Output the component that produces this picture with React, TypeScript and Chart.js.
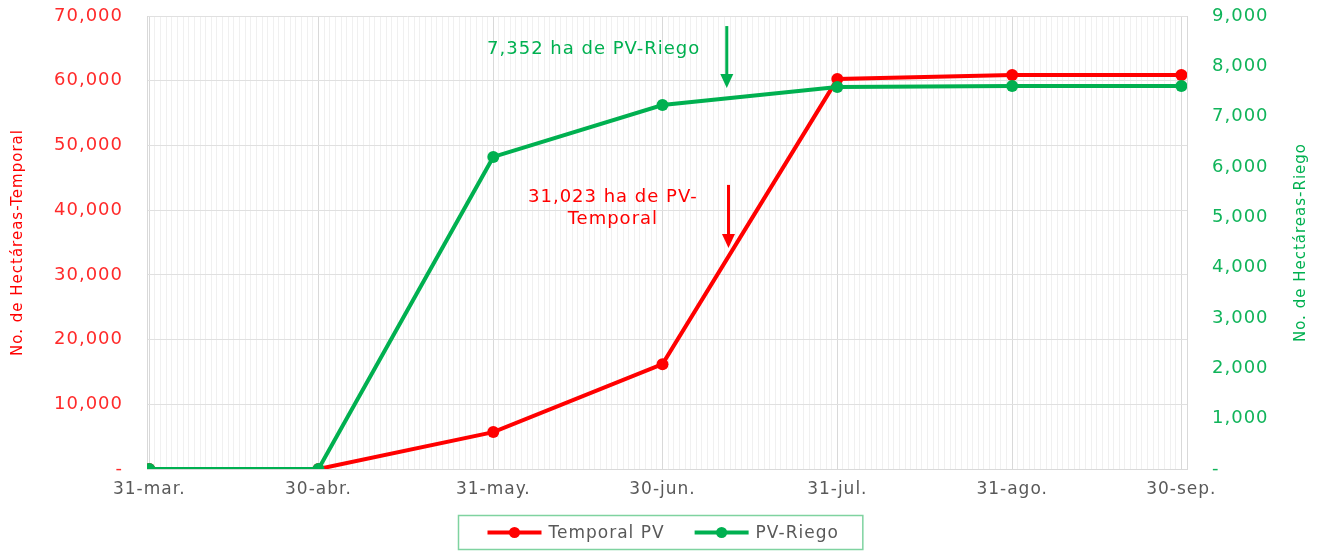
import React, { useEffect, useRef } from 'react';
import { Chart, registerables } from 'chart.js';

Chart.register(...registerables);

// ---- data ----
const dateLabels = ['31-mar.', '30-abr.', '31-may.', '30-jun.', '31-jul.', '31-ago.', '30-sep.'];
const dayOffsets = [0, 30, 61, 91, 122, 153, 183];
const temporalValues = [0, 0, 5700, 16200, 60250, 60900, 60900];
const riegoValues = [0, 0, 6200, 7230, 7590, 7610, 7610];
const seriesNames = ['Temporal PV', 'PV-Riego'];
const leftTitle = 'No. de Hectáreas-Temporal';
const rightTitle = 'No. de Hectáreas-Riego';
const riegoNote = ['7,352 ha de PV-Riego'];
const temporalNote = ['31,023 ha de PV-', 'Temporal'];

// ---- styles ----
const FONT = '"DejaVu Sans", sans-serif';
const LS = '1px';
const RED = '#FF0000';
const GREEN = '#00B050';
const GRAY = '#595959';

function drawArrow(ctx: CanvasRenderingContext2D, x: number, y1: number, y2: number, color: string) {
  const head = 14;
  ctx.save();
  ctx.strokeStyle = color;
  ctx.fillStyle = color;
  ctx.lineWidth = 3;
  ctx.beginPath();
  ctx.moveTo(x, y1);
  ctx.lineTo(x, y2 - head + 1);
  ctx.stroke();
  ctx.beginPath();
  ctx.moveTo(x - 6.5, y2 - head);
  ctx.lineTo(x + 6.5, y2 - head);
  ctx.lineTo(x, y2);
  ctx.closePath();
  ctx.fill();
  ctx.restore();
}

function drawVerticalTitle(ctx: CanvasRenderingContext2D, text: string, x: number, y: number, color: string) {
  ctx.save();
  ctx.translate(x, y);
  ctx.rotate(-Math.PI / 2);
  ctx.fillStyle = color;
  ctx.textAlign = 'center';
  ctx.textBaseline = 'middle';
  ctx.fillText(text, 0, 0);
  ctx.restore();
}

const overlayPlugin = {
  id: 'overlay',
  beforeUpdate(chart: any) {
    chart.ctx.letterSpacing = LS;
  },
  beforeDraw(chart: any) {
    chart.ctx.letterSpacing = LS;
  },
  afterDraw(chart: any) {
    const ctx: CanvasRenderingContext2D = chart.ctx;
    const xs = chart.scales.x;
    const yl = chart.scales.y;
    const yr = chart.scales.y1;
    const area = chart.chartArea;
    ctx.save();
    ctx.letterSpacing = LS;

    // axis titles
    ctx.font = `15px ${FONT}`;
    const midY = (area.top + area.bottom) / 2;
    drawVerticalTitle(ctx, leftTitle, 18, midY, RED);
    drawVerticalTitle(ctx, rightTitle, 1301, midY, GREEN);

    ctx.font = `18px ${FONT}`;
    ctx.textAlign = 'center';
    ctx.textBaseline = 'middle';

    // Riego annotation
    ctx.fillStyle = GREEN;
    riegoNote.forEach((t, i) => {
      ctx.fillText(t, xs.getPixelForValue(78.8), yr.getPixelForValue(8330) + i * 22);
    });
    drawArrow(ctx, xs.getPixelForValue(102.4), yr.getPixelForValue(8800), yr.getPixelForValue(7570), GREEN);

    // Temporal annotation
    ctx.fillStyle = RED;
    temporalNote.forEach((t, i) => {
      ctx.fillText(t, xs.getPixelForValue(82.2), yl.getPixelForValue(42050) + i * 22);
    });
    drawArrow(ctx, xs.getPixelForValue(102.7), yl.getPixelForValue(43900), yl.getPixelForValue(34150), RED);

    // Legend
    ctx.font = `17px ${FONT}`;
    ctx.textAlign = 'left';
    const datasets = chart.data.datasets;
    const lineW = 54;
    const gapText = 7;
    const padL = 29;
    const padR = 24;
    const itemGap = 30;
    const widths = datasets.map((d: any) => ctx.measureText(d.label).width);
    const total = padL + padR + datasets.reduce((s: number, d: any, i: number) => s + lineW + gapText + widths[i], 0) + itemGap * (datasets.length - 1);
    const bx = Math.round(chart.width / 2 - total / 2) + 0.5;
    const by = 515.5;
    const bh = 34;
    ctx.strokeStyle = '#7fd3a0';
    ctx.lineWidth = 1.5;
    ctx.strokeRect(bx, by, total, bh);
    let cx = bx + padL;
    const cy = by + bh / 2;
    datasets.forEach((d: any, i: number) => {
      ctx.strokeStyle = d.borderColor;
      ctx.fillStyle = d.borderColor;
      ctx.lineWidth = 4;
      ctx.beginPath();
      ctx.moveTo(cx, cy);
      ctx.lineTo(cx + lineW, cy);
      ctx.stroke();
      ctx.beginPath();
      ctx.arc(cx + lineW / 2, cy, 5.5, 0, Math.PI * 2);
      ctx.fill();
      ctx.fillStyle = GRAY;
      ctx.textBaseline = 'middle';
      ctx.fillText(d.label, cx + lineW + gapText, cy + 1);
      cx += lineW + gapText + widths[i] + itemGap;
    });
    ctx.restore();
  },
};

const fmt = (v: number) => (v === 0 ? '-' : v.toLocaleString('en-US'));

const fitVertical = (w: number) => (s: any) => {
  s.width = w;
  s.paddingTop = 0;
  s.paddingBottom = 0;
};

export default function App() {
  const canvasRef = useRef<HTMLCanvasElement | null>(null);

  useEffect(() => {
    document.body.style.margin = '0';
    const canvas = canvasRef.current!;
    const chart = new Chart(canvas, {
      type: 'line',
      data: {
        datasets: [
          {
            label: seriesNames[0],
            data: dayOffsets.map((d, i) => ({ x: d, y: temporalValues[i] })),
            borderColor: RED,
            backgroundColor: RED,
            borderWidth: 4,
            pointRadius: 6,
            pointBorderWidth: 0,
            pointHoverRadius: 6,
            yAxisID: 'y',
            order: 1,
          },
          {
            label: seriesNames[1],
            data: dayOffsets.map((d, i) => ({ x: d, y: riegoValues[i] })),
            borderColor: GREEN,
            backgroundColor: GREEN,
            borderWidth: 4,
            pointRadius: 6,
            pointBorderWidth: 0,
            pointHoverRadius: 6,
            yAxisID: 'y1',
            order: 0,
          },
        ],
      },
      options: {
        animation: false,
        responsive: false,
        layout: { padding: { top: 16, left: 0, right: 0, bottom: 50 } },
        plugins: { legend: { display: false }, tooltip: { enabled: false } },
        scales: {
          x: {
            type: 'linear',
            min: -0.4,
            max: 184,
            afterBuildTicks: (s: any) => {
              const t: any[] = [];
              for (let i = 0; i <= 183; i++) t.push({ value: i });
              s.ticks = t;
            },
            afterFit: (s: any) => {
              s.height = 33;
              s.paddingLeft = 0;
              s.paddingRight = 0;
            },
            ticks: {
              autoSkip: false,
              maxRotation: 0,
              minRotation: 0,
              padding: 10,
              color: GRAY,
              font: { family: FONT, size: 17 },
              callback: (v: any) => {
                const i = dayOffsets.indexOf(v);
                return i >= 0 ? dateLabels[i] : '';
              },
            },
            grid: {
              color: (c: any) => (c.tick && dayOffsets.includes(c.tick.value) ? '#d9d9d9' : '#f0f0f0'),
              lineWidth: 1,
              drawTicks: false,
            },
            border: { display: true, color: '#d9d9d9' },
          },
          y: {
            type: 'linear',
            position: 'left',
            min: 0,
            max: 70000,
            afterFit: fitVertical(147),
            ticks: {
              stepSize: 10000,
              padding: 24,
              color: '#ff2a2a',
              font: { family: FONT, size: 18 },
              callback: (v: any) => fmt(v),
            },
            grid: { color: '#e0e0e0', drawTicks: false },
            border: { display: true, color: '#d9d9d9' },
          },
          y1: {
            type: 'linear',
            position: 'right',
            min: 0,
            max: 9000,
            afterFit: fitVertical(134),
            ticks: {
              stepSize: 1000,
              padding: 25,
              color: '#10b45a',
              font: { family: FONT, size: 18 },
              callback: (v: any) => fmt(v),
            },
            grid: { display: false, drawTicks: false },
            border: { display: true, color: '#d9d9d9' },
          },
        },
      },
      plugins: [overlayPlugin],
    } as any);
    return () => chart.destroy();
  }, []);

  return (
    <div style={{ width: 1321, height: 552, background: '#fff' }}>
      <canvas ref={canvasRef} width={1321} height={552} style={{ display: 'block' }} />
    </div>
  );
}
